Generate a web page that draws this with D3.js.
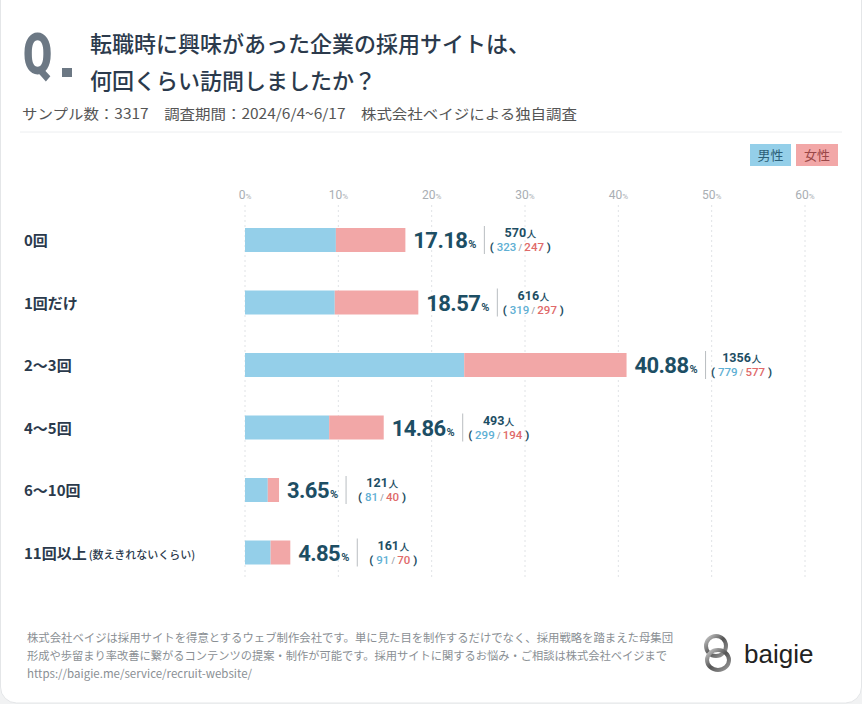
<!DOCTYPE html>
<html>
<head>
<meta charset="utf-8">
<script src="https://cdn.jsdelivr.net/npm/d3@7"></script>
<style>
  html, body { margin: 0; padding: 0; background: #f1f2f3; }
  svg { display: block; }
  text { font-family: "Noto Sans CJK JP", "Noto Sans", sans-serif; }
  .num { font-family: Roboto, "Noto Sans", sans-serif; }
</style>
</head>
<body>
<svg class="chart" width="862" height="704"></svg>
<script>
/*
      Data
*/
const categories = ["0回", "1回だけ", "2〜3回", "4〜5回", "6〜10回", "11回以上"];
const categoryNotes = ["", "", "", "", "", "(数えきれないくらい)"];
const maleCounts = [323, 319, 779, 299, 81, 91];
const femaleCounts = [247, 297, 577, 194, 40, 70];
const totalCounts = [570, 616, 1356, 493, 121, 161];
const percents = [17.18, 18.57, 40.88, 14.86, 3.65, 4.85];
const sampleSize = 3317;
const tickValues = [0, 10, 20, 30, 40, 50, 60];
const seriesNames = ["男性", "女性"];

const footerLines = [
  "株式会社ベイジは採用サイトを得意とするウェブ制作会社です。単に見た目を制作するだけでなく、採用戦略を踏まえた母集団",
  "形成や歩留まり率改善に繋がるコンテンツの提案・制作が可能です。採用サイトに関するお悩み・ご相談は株式会社ベイジまで",
  "https://baigie.me/service/recruit-website/",
];

const rows = categories.map((c, i) => ({
  name: c,
  note: categoryNotes[i],
  male: maleCounts[i],
  female: femaleCounts[i],
  total: totalCounts[i],
  pct: percents[i],
}));

const colors = {
  male: "#94cfe9",
  female: "#f2a7a7",
  maleText: "#5fb0d4",
  femaleText: "#e06a6a",
  dark: "#1d4e64",
  title: "#2b3a4c",
};

const svg = d3.select(".chart");

// card
svg.append("rect")
  .attr("x", 0.5).attr("y", -20)
  .attr("width", 861).attr("height", 723)
  .attr("rx", 16)
  .attr("fill", "#fff")
  .attr("stroke", "#e4e6e8");

/*
      Header
*/
svg.append("text")
  .attr("class", "num")
  .attr("transform", "translate(23,74) scale(0.74,1)")
  .attr("font-size", 57)
  .attr("font-weight", 900)
  .attr("fill", "#6c7884")
  .text("Q");
svg.append("rect")
  .attr("x", 62).attr("y", 68)
  .attr("width", 10).attr("height", 9)
  .attr("fill", "#6c7884");

svg.append("text")
  .attr("x", 90).attr("y", 52)
  .attr("font-size", 22).attr("font-weight", 500)
  .attr("fill", colors.title)
  .text("転職時に興味があった企業の採用サイトは、");
svg.append("text")
  .attr("x", 90).attr("y", 89)
  .attr("font-size", 22).attr("font-weight", 500)
  .attr("fill", colors.title)
  .text("何回くらい訪問しましたか？");

svg.append("text")
  .attr("x", 22).attr("y", 119)
  .attr("font-size", 14)
  .attr("fill", "#555")
  .attr("textLength", 555)
  .attr("lengthAdjust", "spacingAndGlyphs")
  .text(`サンプル数：${sampleSize}　調査期間：2024/6/4~6/17　株式会社ベイジによる独自調査`);

svg.append("line")
  .attr("x1", 20).attr("x2", 842)
  .attr("y1", 132).attr("y2", 132)
  .attr("stroke", "#eceef0");

/*
      Legend
*/
const legend = svg.append("g").selectAll("g")
  .data(seriesNames)
  .join("g")
  .attr("transform", (d, i) => `translate(${i === 0 ? 750 : 796},144)`);
legend.append("rect")
  .attr("width", (d, i) => (i === 0 ? 41 : 42))
  .attr("height", 22)
  .attr("fill", (d, i) => (i === 0 ? colors.male : colors.female));
legend.append("text")
  .attr("x", (d, i) => (i === 0 ? 20.5 : 21))
  .attr("y", 16)
  .attr("text-anchor", "middle")
  .attr("font-size", 13)
  .attr("fill", (d, i) => (i === 0 ? "#2d5f78" : "#9a4848"))
  .text((d) => d);

/*
      Scales
*/
const x = d3.scaleLinear().domain([0, 60]).range([245, 805]);
const y = d3.scalePoint().domain(categories).range([240, 552.5]);
const barH = 24;
const pctOf = (v) => (v / sampleSize) * 100;

// grid
const grid = svg.append("g");
grid.selectAll("line")
  .data(tickValues)
  .join("line")
  .attr("x1", (d) => x(d)).attr("x2", (d) => x(d))
  .attr("y1", 205).attr("y2", 578)
  .attr("stroke", "#e0e3e6")
  .attr("stroke-dasharray", "2,3");

const tick = grid.selectAll("text")
  .data(tickValues)
  .join("text")
  .attr("class", "num")
  .attr("x", (d) => x(d))
  .attr("y", 199)
  .attr("text-anchor", "middle")
  .attr("fill", "#a9aeb3")
  .attr("font-size", 12);
tick.append("tspan").text((d) => d);
tick.append("tspan").attr("font-size", 8).text("%");

/*
      Rows
*/
const row = svg.append("g").selectAll("g")
  .data(rows)
  .join("g")
  .attr("transform", (d) => `translate(0,${y(d.name)})`);

const catLabel = row.append("text")
  .attr("x", 24)
  .attr("y", 6)
  .attr("font-size", 15)
  .attr("font-weight", 700)
  .attr("fill", colors.title);
catLabel.append("tspan").text((d) => d.name);
catLabel.append("tspan")
  .attr("font-size", 11)
  .attr("font-weight", 500)
  .attr("dx", 2)
  .text((d) => d.note);

row.append("rect")
  .attr("x", x(0))
  .attr("y", -barH / 2)
  .attr("width", (d) => x(pctOf(d.male)) - x(0))
  .attr("height", barH)
  .attr("fill", colors.male);

row.append("rect")
  .attr("x", (d) => x(pctOf(d.male)))
  .attr("y", -barH / 2)
  .attr("width", (d) => x(pctOf(d.male) + pctOf(d.female)) - x(pctOf(d.male)))
  .attr("height", barH)
  .attr("fill", colors.female);

// percent label
const pctLabel = row.append("text")
  .attr("class", "num")
  .attr("x", (d) => x(d.pct) + 8)
  .attr("y", 8)
  .attr("font-weight", 700)
  .attr("fill", colors.dark);
pctLabel.append("tspan")
  .attr("font-size", 22)
  .attr("letter-spacing", -0.6)
  .text((d) => d.pct.toFixed(2));
pctLabel.append("tspan")
  .attr("font-size", 11)
  .attr("dx", 1)
  .text("%");

row.each(function (d) {
  const g = d3.select(this);
  const box = g.select("text.num").node().getBBox();
  const sepX = box.x + box.width + 8;

  g.append("line")
    .attr("x1", sepX).attr("x2", sepX)
    .attr("y1", -14).attr("y2", 14)
    .attr("stroke", "#b9bdc1");

  const cx = sepX + 36;
  const cnt = g.append("text")
    .attr("class", "num")
    .attr("x", cx).attr("y", -3)
    .attr("text-anchor", "middle")
    .attr("font-weight", 700)
    .attr("fill", colors.dark);
  cnt.append("tspan").attr("font-size", 12.5).text(d.total);
  cnt.append("tspan").attr("font-size", 9).attr("dx", 1).text("人");

  const split = g.append("text")
    .attr("class", "num")
    .attr("x", cx).attr("y", 11)
    .attr("text-anchor", "middle")
    .attr("font-size", 11.5)
    .attr("font-weight", 500);
  split.append("tspan").attr("fill", colors.dark).attr("font-weight", 700).text("( ");
  split.append("tspan").attr("fill", colors.maleText).text(d.male);
  split.append("tspan").attr("fill", "#9aa0a6").attr("font-size", 9).text(" / ");
  split.append("tspan").attr("fill", colors.femaleText).text(d.female);
  split.append("tspan").attr("fill", colors.dark).attr("font-weight", 700).text(" )");
});

/*
      Footer
*/
svg.append("g").selectAll("text")
  .data(footerLines)
  .join("text")
  .attr("x", 27)
  .attr("y", (d, i) => 642 + i * 18)
  .attr("font-size", 11.5)
  .attr("fill", "#8a8f94")
  .attr("textLength", (d, i) => (i === 0 ? 646 : i === 1 ? 640 : null))
  .attr("lengthAdjust", "spacingAndGlyphs")
  .text((d) => d);

// logo
const defs = svg.append("defs");
const grad = defs.append("linearGradient")
  .attr("id", "ring")
  .attr("x1", "0").attr("y1", "0").attr("x2", "1").attr("y2", "1");
grad.append("stop").attr("offset", "0%").attr("stop-color", "#c9c9c9");
grad.append("stop").attr("offset", "50%").attr("stop-color", "#555");
grad.append("stop").attr("offset", "100%").attr("stop-color", "#9a9a9a");

const logo = svg.append("g").attr("transform", "translate(717,653)");
logo.append("ellipse")
  .attr("cx", -1).attr("cy", -7).attr("rx", 10).attr("ry", 10)
  .attr("fill", "none").attr("stroke", "url(#ring)").attr("stroke-width", 4);
logo.append("ellipse")
  .attr("cx", 1).attr("cy", 7).attr("rx", 11).attr("ry", 10)
  .attr("fill", "none").attr("stroke", "url(#ring)").attr("stroke-width", 4);

svg.append("text")
  .attr("x", 744).attr("y", 663)
  .attr("font-size", 26)
  .attr("fill", "#222")
  .style("font-family", "'Liberation Sans', Arial, sans-serif")
  .text("baigie");
</script>
</body>
</html>
